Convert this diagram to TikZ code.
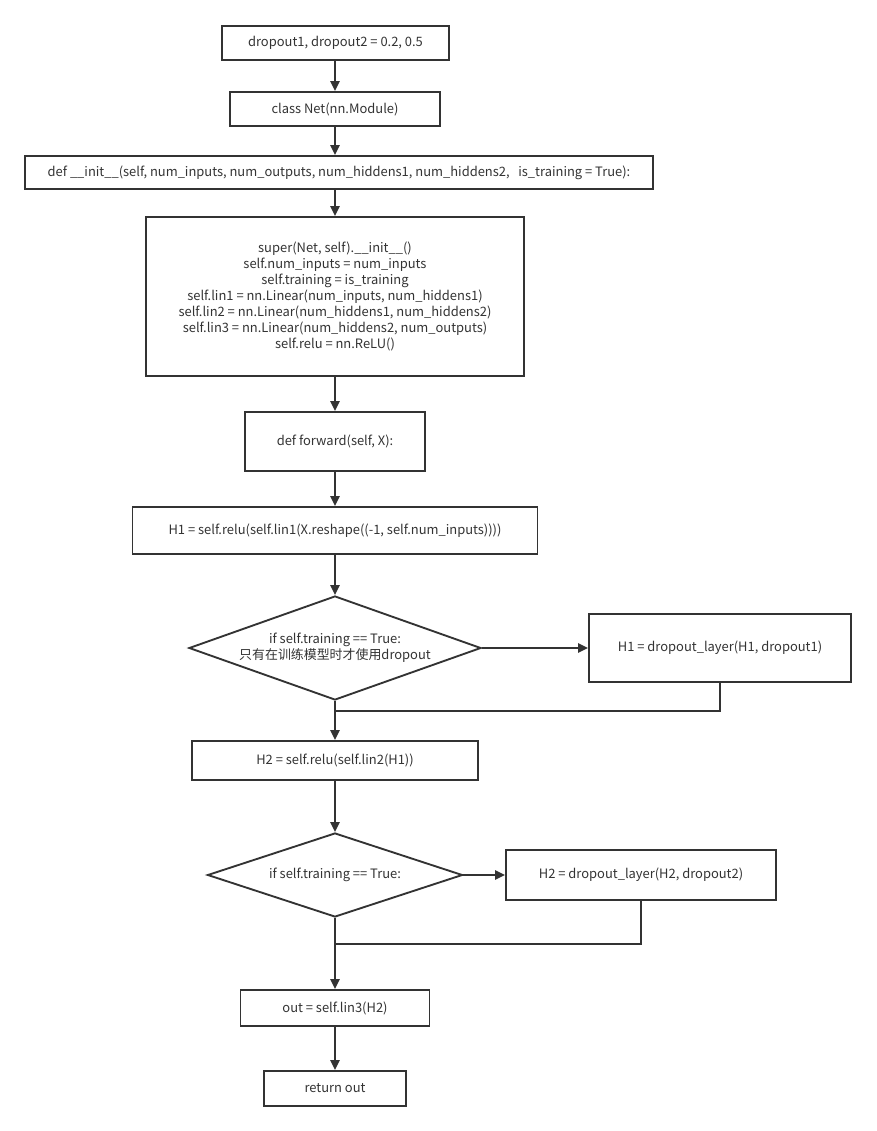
\documentclass[tikz,border=0pt]{standalone}
\usepackage{fontspec}
\setmainfont{Noto Sans CJK SC}
\usepackage{xcolor}
\usepackage{tikz}
\usetikzlibrary{arrows.meta,shapes.geometric}
\definecolor{linegray}{HTML}{333333}

\tikzset{
  stepbox/.style={draw=linegray,line width=1.4pt,rectangle,inner sep=0pt,align=center,text=linegray},
  testbox/.style={draw=linegray,line width=1.4pt,diamond,inner sep=0pt,text=linegray},
  flow/.style={draw=linegray,line width=1.4pt,-{Triangle[length=7.5pt,width=7pt]}},
  back/.style={draw=linegray,line width=1.4pt}
}

\begin{document}
\begin{tikzpicture}[x=0.75pt,y=-0.75pt,font=\fontsize{9.7}{11.9}\selectfont]
\useasboundingbox (0,0) rectangle (876,1131);
\node[stepbox,minimum width=170.3pt,minimum height=25.5pt] (drop) at (335.5,43) {dropout1, dropout2 = 0.2, 0.5};
\node[stepbox,minimum width=157.5pt,minimum height=25.5pt] (cls) at (335,109) {class Net(nn.Module)};
\node[stepbox,minimum width=471pt,minimum height=24.75pt] (init) at (339,172.5) {def \_\_init\_\_(self, num\_inputs, num\_outputs, num\_hiddens1, num\_hiddens2,\ \ \ is\_training = True):};
\node[stepbox,minimum width=283.5pt,minimum height=119.25pt] (body) at (335,296.5) {super(Net, self).\_\_init\_\_()\\self.num\_inputs = num\_inputs\\self.training = is\_training\\self.lin1 = nn.Linear(num\_inputs, num\_hiddens1)\\self.lin2 = nn.Linear(num\_hiddens1, num\_hiddens2)\\self.lin3 = nn.Linear(num\_hiddens2, num\_outputs)\\self.relu = nn.ReLU()};
\node[stepbox,minimum width=135pt,minimum height=44.25pt] (fwd) at (335,441.5) {def forward(self, X):};
\node[stepbox,minimum width=303.75pt,minimum height=35.25pt] (hone) at (335,530.5) {H1 = self.relu(self.lin1(X.reshape((-1, self.num\_inputs))))};
\node[testbox,minimum width=219pt,minimum height=78pt] (testone) at (335,648) {\makebox[0pt]{\begin{tabular}{@{}c@{}}if self.training == True:\\只有在训练模型时才使用dropout\end{tabular}}};
\node[stepbox,minimum width=196.5pt,minimum height=51pt] (dropone) at (720,648) {H1 = dropout\_layer(H1, dropout1)};
\node[stepbox,minimum width=214.5pt,minimum height=29.25pt] (htwo) at (335,760.5) {H2 = self.relu(self.lin2(H1))};
\node[testbox,minimum width=191.25pt,minimum height=63pt] (testtwo) at (335,875) {\makebox[0pt]{if self.training == True:}};
\node[stepbox,minimum width=202.5pt,minimum height=37.5pt] (droptwo) at (641,875) {H2 = dropout\_layer(H2, dropout2)};
\node[stepbox,minimum width=141.75pt,minimum height=27pt] (out) at (335,1008) {out = self.lin3(H2)};
\node[stepbox,minimum width=106.5pt,minimum height=26.25pt] (ret) at (335,1088.5) {return out};
\coordinate (joinone) at (335,711);
\coordinate (jointwo) at (335,944);
\draw[flow] (drop.south -| cls.north) -- (cls.north);
\draw[flow] (cls.south) -- (cls.south |- init.north);
\draw[flow] (body.north |- init.south) -- (body.north);
\draw[flow] (body.south) -- (fwd.north);
\draw[flow] (fwd.south) -- (fwd.south |- hone.north);
\draw[flow] (hone.south -| testone.north) -- (testone.north);
\draw[flow] (testone.east) -- (dropone.west);
\draw[flow] (testone.south) -- (htwo.north);
\draw[back] (dropone.south) |- (joinone);
\draw[flow] (htwo.south) -- (testtwo.north);
\draw[flow] (testtwo.east) -- (droptwo.west);
\draw[flow] (testtwo.south) -- (testtwo.south |- out.north);
\draw[back] (droptwo.south) |- (jointwo);
\draw[flow] (out.south -| ret.north) -- (ret.north);
\end{tikzpicture}
\end{document}
